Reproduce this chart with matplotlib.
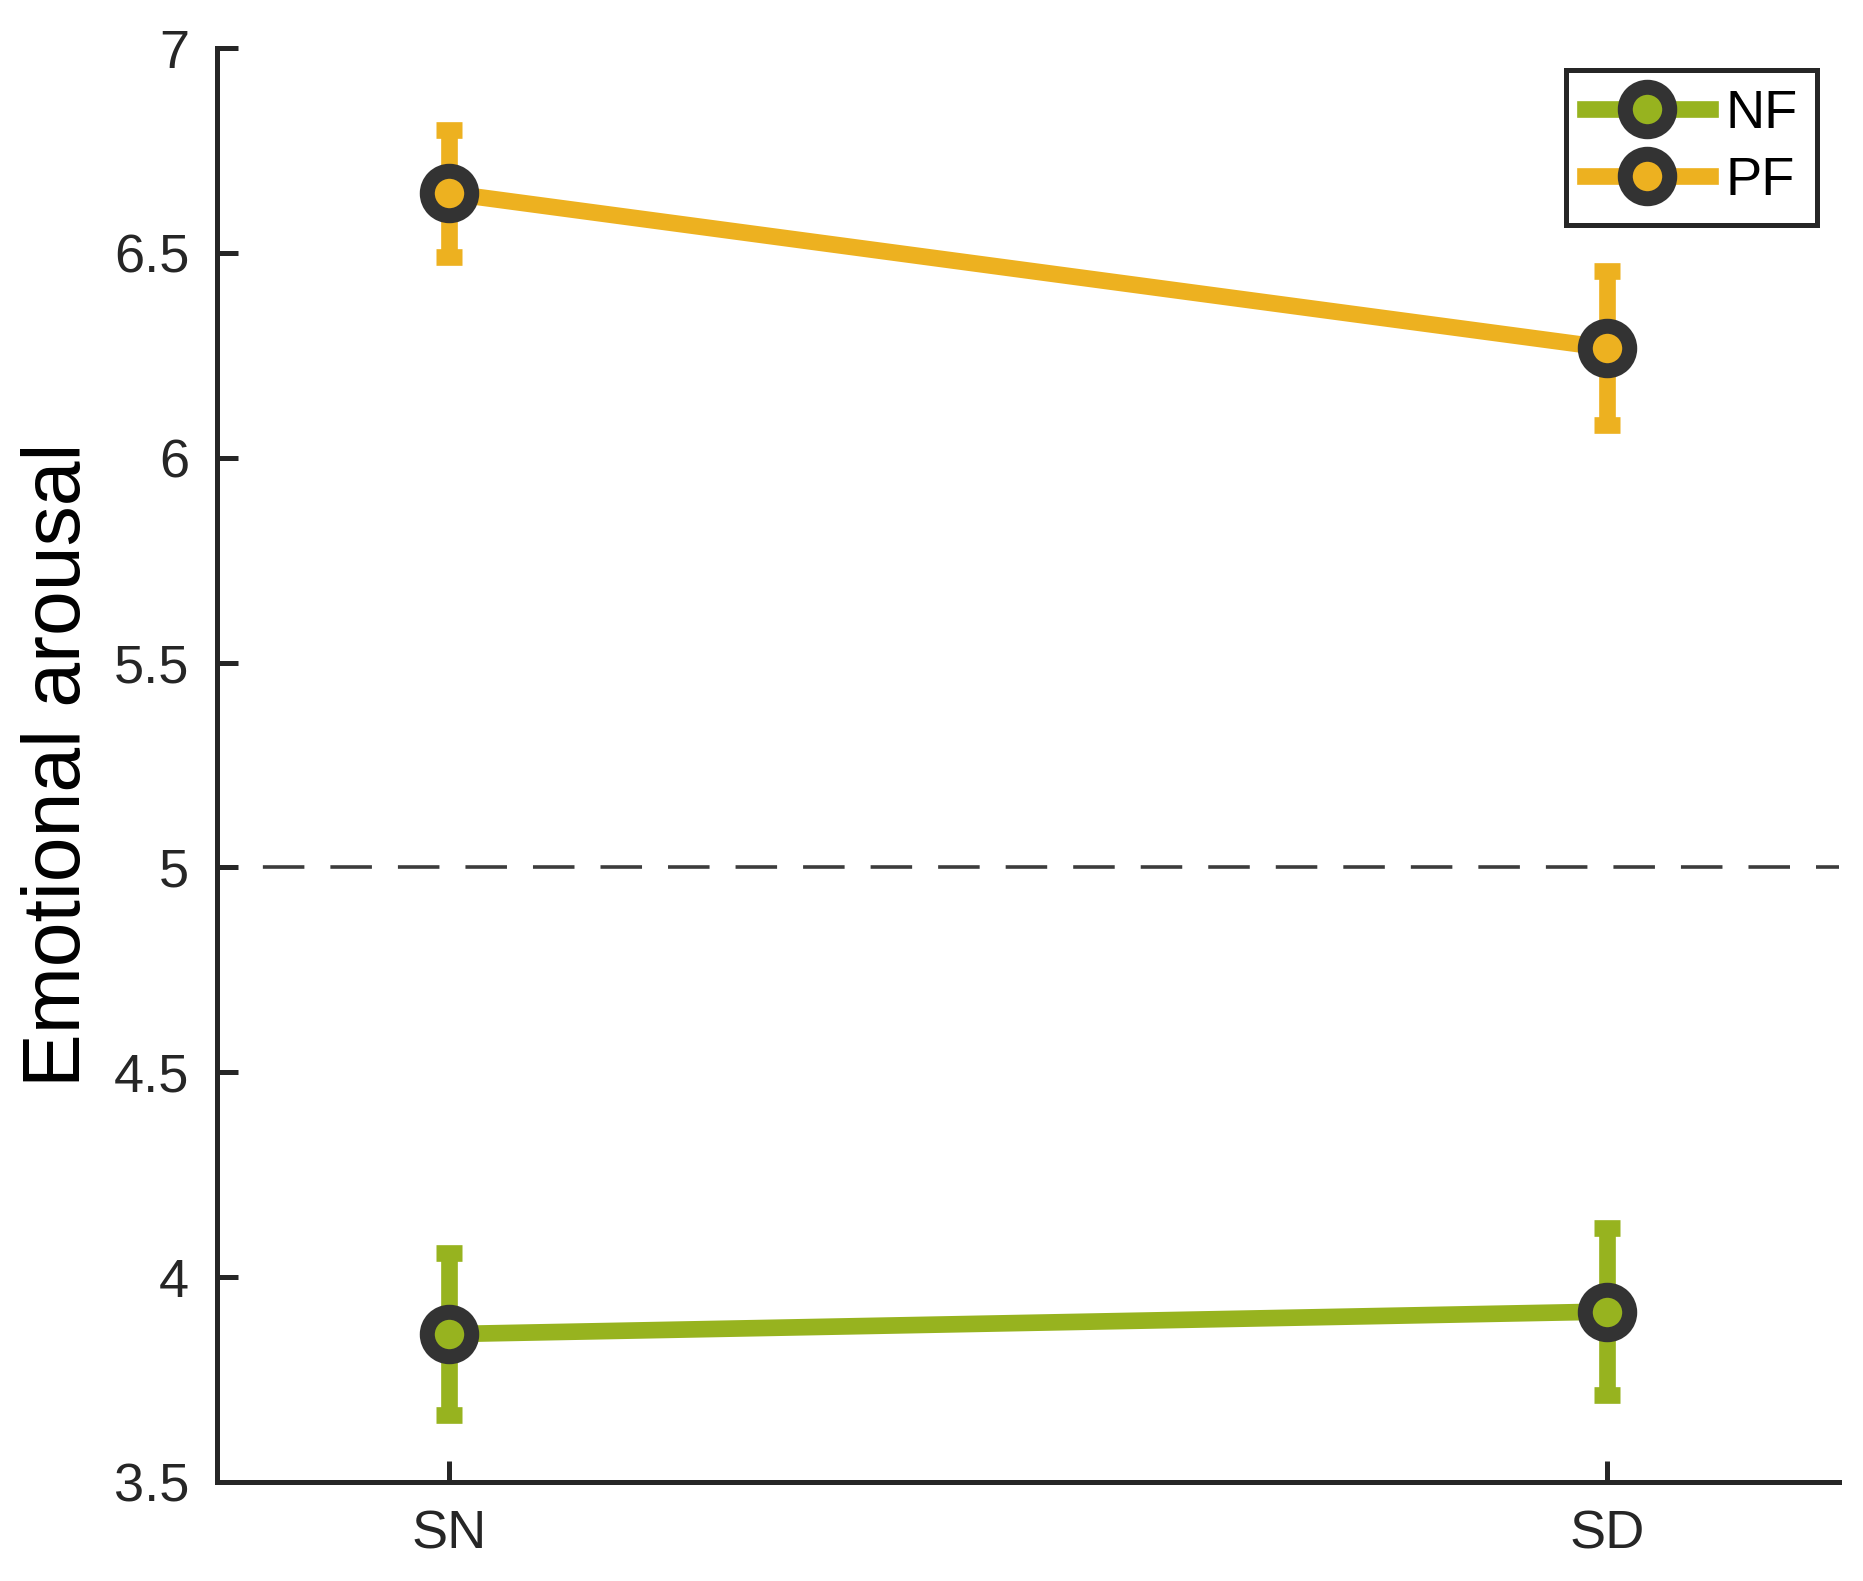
import matplotlib
matplotlib.use('Agg')
import matplotlib.pyplot as plt

# 데이터
conditions = ['SN', 'SD']
x_pos = [1, 2]
nf_mean = [3.861, 3.916]
nf_err = [0.197, 0.203]
pf_mean = [6.646, 6.268]
pf_err = [0.155, 0.187]
y_ticks = [3.5, 4, 4.5, 5, 5.5, 6, 6.5, 7]
y_tick_labels = ['3.5', '4', '4.5', '5', '5.5', '6', '6.5', '7']
baseline = 5

plt.rcParams['font.family'] = ['Liberation Sans', 'DejaVu Sans']

green = '#97B31F'
orange = '#EDB120'
edge = '#333333'
axis_col = '#262626'

fig = plt.figure(figsize=(18.63, 15.81), dpi=100)
ax = fig.add_axes([0.1165, 0.0626, 0.8705, 0.907])

# 기준선 (점선)
ax.axhline(baseline, color='#3c3c3c', linewidth=2.6, linestyle=(6.0, (11.5, 7.2)), zorder=1)

# 에러바 + 선/마커
for mean, err, col, name in [(nf_mean, nf_err, green, 'NF'), (pf_mean, pf_err, orange, 'PF')]:
    ax.errorbar(x_pos, mean, yerr=err, fmt='none', ecolor=col, elinewidth=12,
                capsize=9.5, capthick=12, zorder=2)
    ax.plot(x_pos, mean, color=col, linewidth=12, marker='o', markersize=32,
            markerfacecolor=col, markeredgecolor=edge, markeredgewidth=10.8,
            label=name, zorder=3)

ax.set_xlim(0.8, 2.2)
ax.set_ylim(3.5, 7)
ax.set_xticks(x_pos)
ax.set_xticklabels(conditions)
ax.set_yticks(y_ticks)
ax.set_yticklabels(y_tick_labels)
ax.set_ylabel('Emotional arousal', fontsize=58, labelpad=12)

ax.spines['top'].set_visible(False)
ax.spines['right'].set_visible(False)
for s in ['left', 'bottom']:
    ax.spines[s].set_linewidth(3.6)
    ax.spines[s].set_color(axis_col)
ax.tick_params(direction='in', length=15, width=3.6, color=axis_col,
               labelsize=39, labelcolor=axis_col, pad=20)

leg = ax.legend(loc='upper right', fontsize=39, handlelength=2.3, handletextpad=0.3,
                borderpad=0.35, labelspacing=0.32, borderaxespad=0.4,
                fancybox=False, framealpha=1)
leg.get_frame().set_edgecolor(axis_col)
leg.get_frame().set_linewidth(3.6)

fig.savefig('out.png', dpi=100)
